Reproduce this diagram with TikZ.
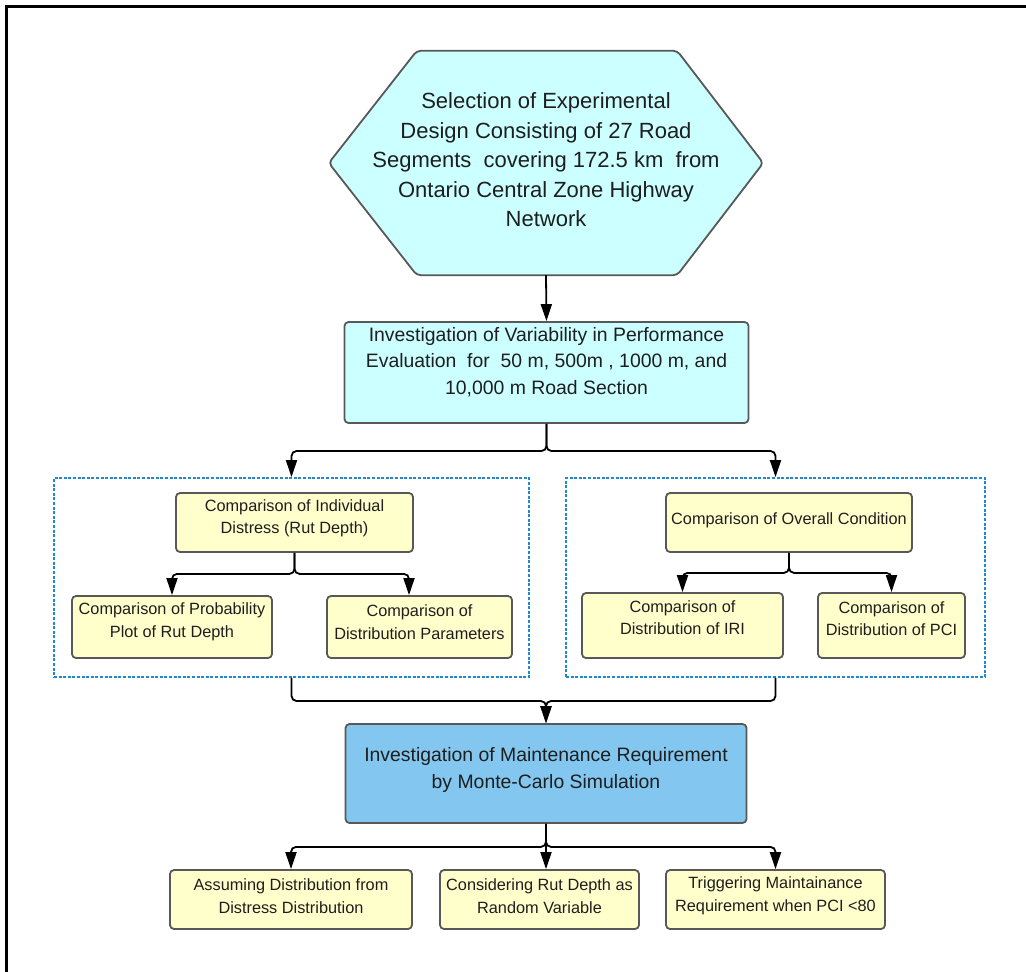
\documentclass[tikz,border=0pt]{standalone}
\usepackage{fontspec}
\setmainfont{Liberation Sans}
\usetikzlibrary{arrows.meta,calc}

\definecolor{cyanfill}{RGB}{204,255,255}
\definecolor{yellowfill}{RGB}{255,255,204}
\definecolor{bluefill}{RGB}{131,199,240}
\definecolor{edgegray}{RGB}{88,88,88}
\definecolor{dotblue}{RGB}{33,136,207}
\definecolor{ink}{RGB}{30,30,30}

\tikzset{
  box/.style={draw=edgegray, line width=1.8pt, rounded corners=4pt, inner sep=0pt},
  cyanbox/.style={box, fill=cyanfill},
  yelbox/.style={box, fill=yellowfill},
  bluebox/.style={box, fill=bluefill},
  groupbox/.style={draw=dotblue, line width=1.8pt, dash pattern=on 3pt off 1.6pt, inner sep=0pt},
  hextxt/.style={text=ink, align=center, font=\fontsize{22}{29.5}\selectfont},
  bigtxt/.style={text=ink, align=center, font=\fontsize{19.4}{26.5}\selectfont},
  smalltxt/.style={text=ink, align=center, font=\fontsize{16.3}{22.5}\selectfont},
  conn/.style={line width=1.8pt, rounded corners=5pt, -{Triangle[length=17pt,width=11pt]}},
}

\begin{document}
\begin{tikzpicture}[x=1pt, y=-1pt]
\useasboundingbox (0,0) rectangle (1026,972);

% outer frame (left and top edges)
\draw[line width=2.8pt] (6.5,972) -- (6.5,6.5) -- (1026,6.5);

% starting hexagon
\node[minimum width=434pt, minimum height=224pt, inner sep=0pt] (hex) at (546,163) {};
\draw[draw=edgegray, line width=1.8pt, fill=cyanfill, rounded corners=4pt]
  (hex.west) -- ([xshift=88pt]hex.north west) -- ([xshift=-86pt]hex.north east)
  -- (hex.east) -- ([xshift=-86pt]hex.south east) -- ([xshift=88pt]hex.south west) -- cycle;
\node[hextxt] (hext) at (546,160) {Selection of Experimental\\Design Consisting of 27 Road\\Segments\ \ covering 172.5 km\ \ from\\Ontario Central Zone Highway\\Network};

% variability study
\node[cyanbox, minimum width=404pt, minimum height=101pt] (b2) at (546.5,372.5) {};
\node[bigtxt] (b2t) at (546.5,362) {Investigation of Variability in Performance\\Evaluation\ \ for\ \ 50 m, 500m , 1000 m, and\\10,000 m Road Section};

% groups
\node[groupbox, minimum width=475pt, minimum height=199pt] (g1) at (291.5,577.5) {};
\node[groupbox, minimum width=419pt, minimum height=199pt] (g2) at (775.5,577.5) {};

% individual distress group
\node[yelbox, minimum width=237pt, minimum height=59pt] (c1) at (294.5,522.5) {};
\node[smalltxt] (c1t) at (294.5,518.5) {Comparison of Individual\\Distress (Rut Depth)};
\node[yelbox, minimum width=200pt, minimum height=62pt] (c2) at (172,627) {};
\node[smalltxt] (c2t) at (172,622) {Comparison of Probability\\Plot of Rut Depth};
\node[yelbox, minimum width=185pt, minimum height=62pt] (c3) at (419.5,627) {};
\node[smalltxt] (c3t) at (419.5,622) {Comparison of\\Distribution Parameters};

% overall condition group
\node[yelbox, minimum width=246pt, minimum height=59pt] (d1) at (789,522.5) {};
\node[smalltxt] (d1t) at (789,520) {Comparison of Overall Condition};
\node[yelbox, minimum width=201pt, minimum height=65pt] (d2) at (682.5,625.5) {};
\node[smalltxt] (d2t) at (682.5,617.5) {Comparison of\\Distribution of IRI};
\node[yelbox, minimum width=147pt, minimum height=65pt] (d3) at (891.5,625.5) {};
\node[smalltxt] (d3t) at (891.5,618.5) {Comparison of\\Distribution of PCI};

% Monte-Carlo step
\node[bluebox, minimum width=401pt, minimum height=99pt] (m) at (546,773.5) {};
\node[bigtxt] (mt) at (546,770) {Investigation of Maintenance Requirement\\by Monte-Carlo Simulation};

% final steps
\node[yelbox, minimum width=242pt, minimum height=59pt] (e1) at (291,899.5) {};
\node[smalltxt] (e1t) at (291,896) {Assuming Distribution from\\Distress Distribution};
\node[yelbox, minimum width=199pt, minimum height=59pt] (e2) at (539.5,899.5) {};
\node[smalltxt] (e2t) at (539.5,896) {Considering Rut Depth as\\Random Variable};
\node[yelbox, minimum width=219pt, minimum height=59pt] (e3) at (775.5,899.5) {};
\node[smalltxt] (e3t) at (775.5,896) {Triggering Maintainance\\Requirement when PCI <80};

% junction points
\coordinate (j1) at (546.5,451);
\coordinate (j2) at (546,701);

% connectors
\draw[conn] (hex.south) -- (b2.north);
\draw[conn] (b2.south) -- (j1) -| (g1.north);
\draw[conn] (b2.south) -- (j1) -| (g2.north);

\draw[conn] (c1.south) -- ++(0,21) -| (c2.north);
\draw[conn] (c1.south) -- ++(0,21) -| ([xshift=-10.5pt]c3.north);
\draw[conn] (d1.south) -- ++(0,20) -| (d2.north);
\draw[conn] (d1.south) -- ++(0,20) -| (d3.north);

\draw[conn] (g1.south) |- (j2) -- (m.north);
\draw[conn] (g2.south) |- (j2) -- (m.north);

\draw[conn] (m.south) -- ++(0,23) -| (e1.north);
\draw[conn] (m.south) -- ++(0,23) -| (e3.north);
\draw[conn] (m.south) -- ([xshift=6.5pt]e2.north);
\end{tikzpicture}
\end{document}
